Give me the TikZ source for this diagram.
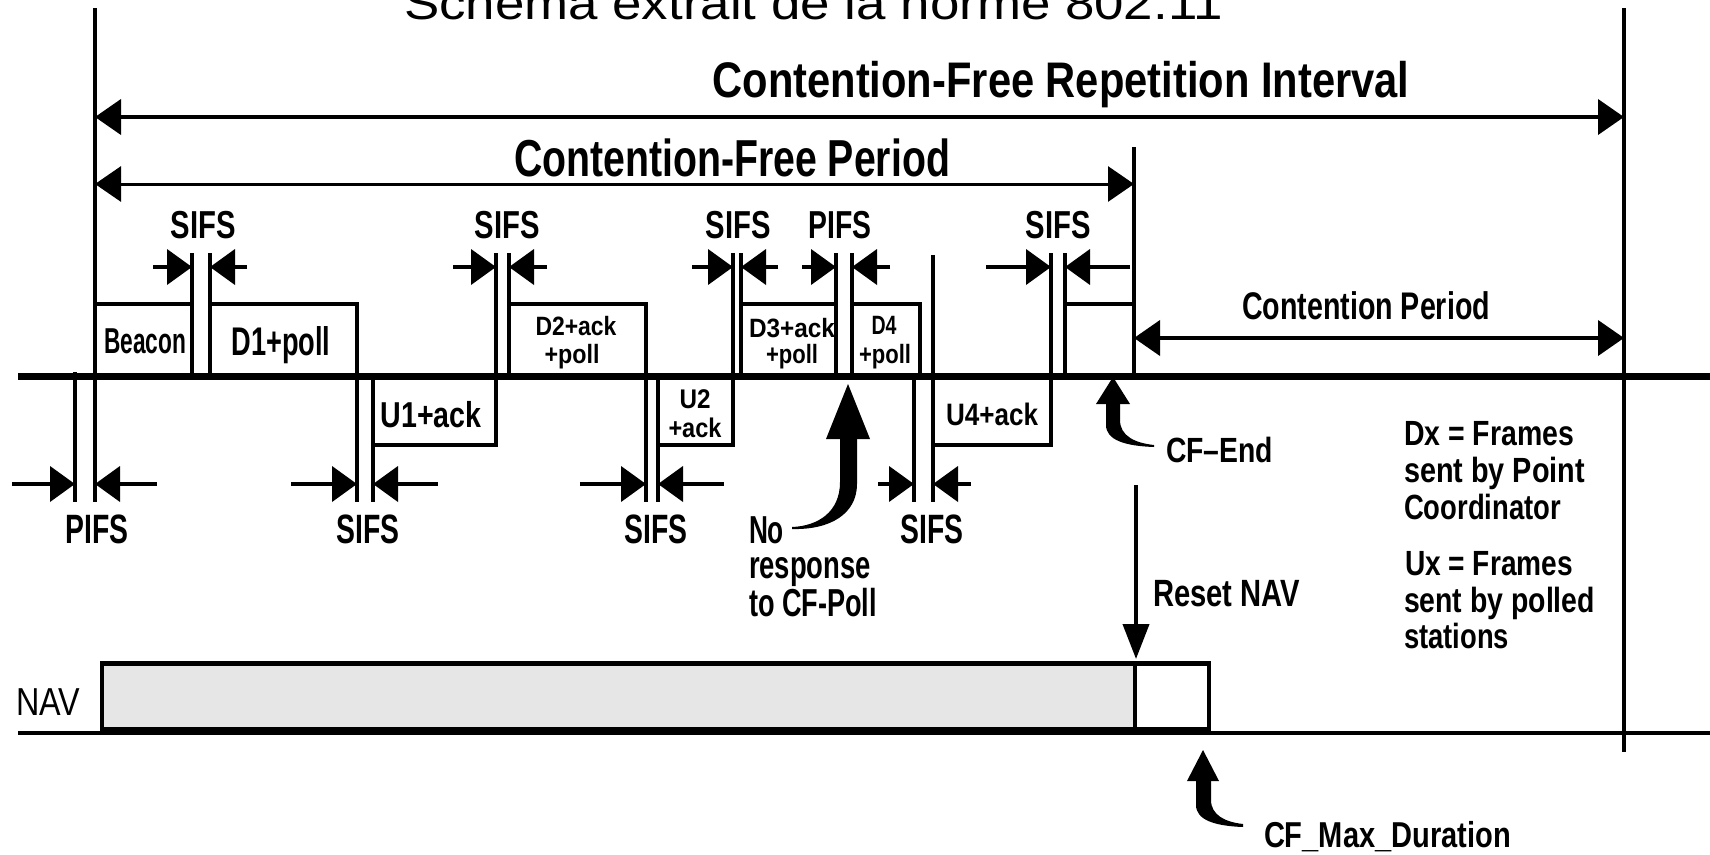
\documentclass[tikz,border=0pt]{standalone}
\usepackage{fontspec}
\usepackage{graphicx}
\setmainfont{Liberation Sans}
\usetikzlibrary{arrows.meta}
\newcommand\fitbox[3]{\resizebox{#1pt}{\height}{\fontsize{#2pt}{#2pt}\selectfont\bfseries #3}}
\newcommand\fitreg[3]{\resizebox{#1pt}{\height}{\fontsize{#2pt}{#2pt}\selectfont #3}}
\definecolor{navgray}{HTML}{E6E6E6}
\begin{document}
\begin{tikzpicture}[x=1pt,y=-1pt,line join=miter,
  lbl/.style={inner sep=0pt,outer sep=0pt,anchor=base},
  lbll/.style={inner sep=0pt,outer sep=0pt,anchor=base west},
  vln/.style={line width=4pt},
  boxln/.style={line width=4pt},
  dimarrow/.style={line width=4pt,{Triangle[length=26pt,width=35pt]}-{Triangle[length=26pt,width=35pt]}},
  ifsmark/.style={line width=4pt,-{Triangle[length=25pt,width=35pt]}},
  bigarrow/.style={fill=black,draw=none}]
\useasboundingbox (0,0) rectangle (1710,854);

% title (cut at top)
\node[lbll] (title) at (404,19) {\fitreg{819}{46}{Schéma extrait de la norme 802.11}};

% big vertical lines
\draw[vln] (95,8) -- (95,502);
\draw[vln] (1624,8) -- (1624,752);
\draw[vln] (1134,147) -- (1134,376);

% dimension arrows
\draw[dimarrow] (95,117) -- (1624,117);
\node[lbl] (cfri) at (1061,97) {\fitbox{697}{50}{Contention-Free Repetition Interval}};
\draw[dimarrow,line width=3pt] (95,184) -- (1134,184);
\node[lbl] (cfp) at (732,176) {\fitbox{436}{52}{Contention-Free Period}};
\draw[dimarrow] (1134,338) -- (1624,338);
\node[lbl] (cp) at (1366,319) {\fitbox{248}{38.5}{Contention Period}};

% main time line
\draw[line width=7pt] (18,376) -- (1710,376);

% frame boxes above the line (tops)
\foreach \a/\b in {95/192,210/357,509/646,741/836,852/920,1065/1134}
  \draw[boxln] (\a,304) -- (\b,304);
% frame boxes below the line (bottoms)
\foreach \a/\b in {373/496,658/733,933/1051}
  \draw[boxln] (\a,445) -- (\b,445);
% upper verticals
\foreach \x in {192,210,509,741,836,852,1065}
  \draw[vln] (\x,253) -- (\x,376);
\foreach \x in {496,733,1051}
  \draw[vln] (\x,253) -- (\x,447);
\draw[vln] (933,255) -- (933,502);
\draw[vln] (920,302) -- (920,376);
% lower verticals
\draw[vln] (75,372) -- (75,502);
\foreach \x in {373,658,914}
  \draw[vln] (\x,376) -- (\x,502);
\foreach \x in {357,646}
  \draw[vln] (\x,302) -- (\x,502);

% interframe space markers
\foreach \l/\a/\b/\r in {153/192/210/247,453/496/509/547,692/733/741/778,802/836/852/890,986/1051/1065/1130}{
  \draw[ifsmark] (\l,267) -- (\a,267);
  \draw[ifsmark] (\r,267) -- (\b,267);}
\foreach \l/\a/\b/\r in {12/75/95/157,291/357/373/438,580/646/658/724,878/914/933/971}{
  \draw[ifsmark] (\l,484) -- (\a,484);
  \draw[ifsmark] (\r,484) -- (\b,484);}

% interframe space labels
\node[lbl] (s1) at (203,238) {\fitbox{65}{39}{SIFS}};
\node[lbl] (s2) at (507,238) {\fitbox{65}{39}{SIFS}};
\node[lbl] (s3) at (738,238) {\fitbox{65}{39}{SIFS}};
\node[lbl] (p2) at (840,238) {\fitbox{63}{39}{PIFS}};
\node[lbl] (s5) at (1058,238) {\fitbox{65}{39}{SIFS}};
\node[lbl] (p1) at (97,543) {\fitbox{63}{41}{PIFS}};
\node[lbl] (s6) at (368,543) {\fitbox{63}{41}{SIFS}};
\node[lbl] (s7) at (656,543) {\fitbox{63}{41}{SIFS}};
\node[lbl] (s8) at (932,543) {\fitbox{63}{41}{SIFS}};

% frame labels
\node[lbl] (beacon) at (145,353) {\fitbox{82}{36}{Beacon}};
\node[lbl] (d1) at (281,355) {\fitbox{99}{40}{D1+poll}};
\node[lbl] (u1) at (431,427) {\fitbox{101}{36}{U1+ack}};
\node[lbl] (d2a) at (576,335) {\fitbox{81}{26.5}{D2+ack}};
\node[lbl] (d2b) at (572,363) {\fitbox{55}{26.5}{+poll}};
\node[lbl] (u2a) at (695,408) {\fitbox{31}{27}{U2}};
\node[lbl] (u2b) at (695,437) {\fitbox{53}{27}{+ack}};
\node[lbl] (d3a) at (792,337) {\fitbox{86}{26.5}{D3+ack}};
\node[lbl] (d3b) at (792,363) {\fitbox{52}{26.5}{+poll}};
\node[lbl] (d4a) at (884,334) {\fitbox{25}{26.5}{D4}};
\node[lbl] (d4b) at (885,363) {\fitbox{52}{26.5}{+poll}};
\node[lbl] (u4) at (992,425) {\fitbox{92}{31}{U4+ack}};

% no response arrow
\fill[bigarrow] (826,439) -- (848,384) -- (870,439) -- cycle;
\fill[bigarrow] (840,437) -- (840,482) .. controls (840,512) and (818,526) .. (792,527) -- (792,529) .. controls (830,530) and (857,514) .. (857,484) -- (857,437) -- cycle;
\node[lbll] (no1) at (749,543) {\fitbox{35}{39}{No}};
\node[lbll] (no2) at (749,578) {\fitbox{122}{39}{response}};
\node[lbll] (no3) at (749,616) {\fitbox{128}{39}{to CF-Poll}};

% CF-End arrow
\fill[bigarrow] (1096,404) -- (1113,377) -- (1130,404) -- cycle;
\fill[bigarrow] (1106,402) -- (1106,425) .. controls (1106,440) and (1125,446) .. (1154,447) -- (1154,445) .. controls (1135,443) and (1120,436) .. (1120,420) -- (1120,402) -- cycle;
\node[lbll] (cfend) at (1166,462) {\fitbox{107}{35}{CF–End}};

% legend
\node[lbll] (lg1) at (1404,445) {\fitbox{170}{35}{Dx = Frames}};
\node[lbll] (lg2) at (1404,482) {\fitbox{181}{35}{sent by Point}};
\node[lbll] (lg3) at (1404,519) {\fitbox{157}{35}{Coordinator}};
\node[lbll] (lg4) at (1405,575) {\fitbox{168}{35}{Ux = Frames}};
\node[lbll] (lg5) at (1404,612) {\fitbox{191}{35}{sent by polled}};
\node[lbll] (lg6) at (1404,648) {\fitbox{105}{35}{stations}};

% NAV
\fill[navgray] (102,663) rectangle (1135,731);
\draw[line width=4pt] (18,733) -- (1710,733);
\draw[line width=4pt] (102,733) -- (102,663);
\draw[line width=5pt] (100,663) -- (1211,663);
\draw[line width=4pt] (1209,663) -- (1209,733);
\draw[line width=4pt] (1135,663) -- (1135,733);
\draw[line width=4pt] (102,729) -- (1209,729);
\node[lbll] (nav) at (16,715) {\fitreg{64}{39}{NAV}};

% Reset NAV
\draw[line width=4pt,-{Triangle[length=35pt,width=26pt]}] (1136,485) -- (1136,659);
\node[lbll] (reset) at (1153,606) {\fitbox{147}{38}{Reset NAV}};

% CF_Max_Duration arrow
\fill[bigarrow] (1187,781) -- (1203,750) -- (1219,781) -- cycle;
\fill[bigarrow] (1196,779) -- (1196,805) .. controls (1196,820) and (1215,826) .. (1243,827) -- (1243,824) .. controls (1225,822) and (1211,815) .. (1211,800) -- (1211,779) -- cycle;
\node[lbll] (cfmax) at (1264,847) {\fitbox{247}{36}{CF\_Max\_Duration}};
\end{tikzpicture}
\end{document}
